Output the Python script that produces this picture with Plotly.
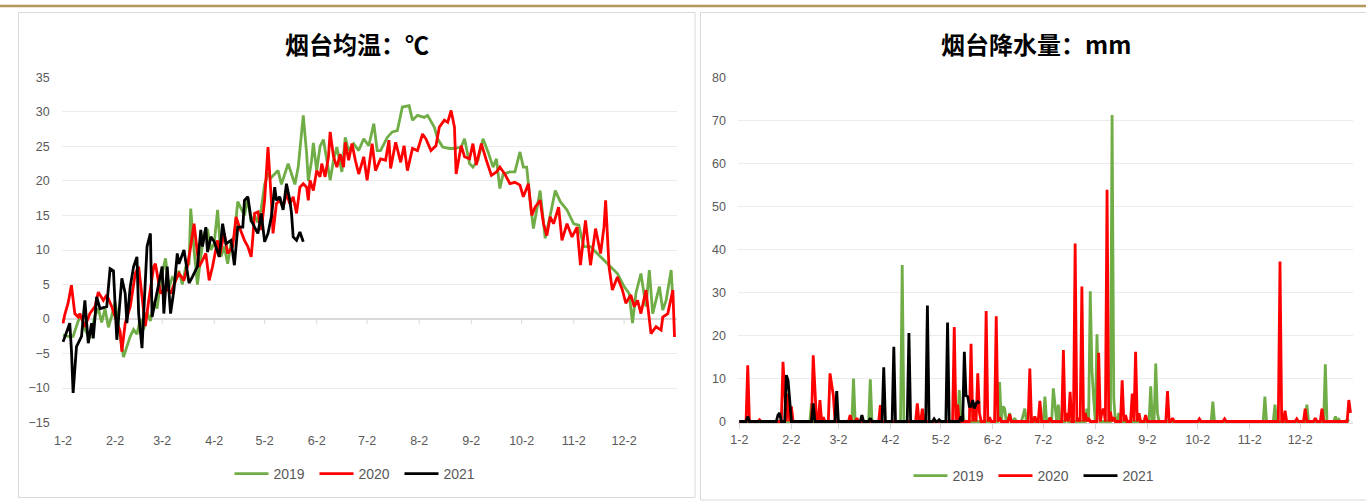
import datetime as dt
import numpy as np
import plotly.graph_objects as go

W, H = 1366, 501

# ---------------- axis categories ----------------
month_labels = ["1-2", "2-2", "3-2", "4-2", "5-2", "6-2", "7-2", "8-2", "9-2", "10-2", "11-2", "12-2"]
month_days = [(dt.date(2021, m, 2) - dt.date(2021, 1, 2)).days for m in range(1, 13)]
years = ["2019", "2020", "2021"]
colors = {"2019": "#70AD47", "2020": "#FF0000", "2021": "#000000"}

# ---------------- temperature (day offset from 1-2, deg C) ----------------
temp2019_day = [0, 3, 6, 9, 11, 13, 16, 19, 21, 23, 25, 27, 29, 31, 33, 36, 38, 40, 42, 44, 46, 48, 50, 52, 54, 56,
                58, 61, 63, 65, 67, 69, 71, 73, 75, 76, 78, 80, 82, 84, 86, 88, 90, 92, 94, 96, 98, 100, 102, 104, 106,
                108, 110, 112, 114, 116, 118, 120, 122, 124, 126, 128, 130, 132, 134, 136, 138, 140, 142, 143, 145,
                146, 148, 149, 151, 153, 155, 157, 159, 161, 163, 166, 168, 170, 173, 176, 179, 182, 185, 187, 189,
                193, 196, 199, 202, 206, 208, 211, 215, 217, 221, 223, 226, 230, 233, 237, 239, 242, 244, 247, 250,
                253, 256, 258, 260, 262, 266, 269, 272, 274, 276, 278, 280, 284, 287, 290, 293, 296, 300, 304, 307,
                310, 314, 318, 322, 326, 330, 334, 337, 339, 341, 344, 347, 349, 351, 355, 357, 359, 362, 363]
temp2019_val = [-2.3, -2.5, -2.5, -0.3, 0.5, -1.5, -2.8, 0.5, 1.5, -0.5, 1.5, -1.2, 0.5, 2.5, -1, -5.5, -4, -2.5,
                -1.5, -2.2, 0, -1.5, 1, -0.3, 2.5, 1.5, 5.5, 8.8, 4.5, 6, 5.5, 7, 5, 7.5, 8, 16, 10, 5, 9, 12.5, 13,
                10, 11, 15.8, 9, 10.5, 8, 11, 12, 17, 16, 15, 17.5, 14, 15, 14, 16, 19.5, 21, 20.5, 21, 21.5, 19.5,
                21, 22.5, 21, 19.5, 22, 27, 29.5, 24, 20, 23, 25.5, 21.5, 25, 26, 23, 20.1, 23, 24.9, 21.3, 26.3,
                24.4, 25.4, 24.4, 26.1, 25.1, 28.3, 24.4, 24.4, 26.3, 27.1, 27.3, 30.7, 30.9, 28.8, 29.5, 29.2, 29.5,
                27.8, 26.1, 24.9, 24.7, 24.7, 24.9, 26.1, 22.5, 22, 23, 26.1, 24.2, 22, 23.2, 18.9, 21, 21.3, 21.3,
                24.2, 22, 22, 17.2, 13.1, 18.6, 11.7, 15, 18.6, 17, 15.8, 13.8, 13.6, 10.5, 10.5, 9.5, 8.5, 7.6, 6.6,
                4.7, 3.7, -0.6, 3.7, 6.6, 1.8, 7.1, 0.8, 4.7, 1.3, 2.7, 7.1, 2.7]

temp2020_day = [0, 1, 3, 5, 7, 9, 10, 13, 16, 19, 21, 24, 26, 29, 32, 34, 35, 37, 40, 43, 45, 47, 49, 51, 54, 55, 58,
                61, 64, 67, 69, 72, 74, 76, 78, 80, 81, 83, 85, 87, 89, 92, 93, 96, 98, 101, 103, 105, 108, 110, 112,
                113, 114, 116, 118, 120, 122, 124, 125, 127, 129, 131, 133, 135, 137, 139, 141, 143, 145, 146, 147,
                149, 151, 153, 154, 156, 158, 159, 161, 163, 165, 167, 168, 170, 172, 174, 176, 179, 181, 184, 186,
                189, 192, 194, 195, 198, 201, 203, 205, 208, 211, 214, 216, 219, 222, 224, 227, 229, 231, 233, 234,
                237, 239, 242, 244, 246, 249, 252, 255, 258, 260, 263, 266, 269, 272, 274, 277, 279, 281, 284, 286,
                288, 290, 292, 295, 297, 300, 303, 306, 308, 311, 314, 317, 320, 322, 323, 325, 327, 330, 333, 335,
                338, 340, 342, 344, 347, 350, 353, 356, 357, 360, 363, 364]
temp2020_val = [-0.6, 0.6, 2.3, 4.9, 0.8, 0.3, 0.8, -1.1, 0.8, 1.8, 3.9, 2.7, 3.5, 1.8, -0.4, -1.8, -4.7, -0.6, 1.8,
                6.6, 7.6, 3.7, -1, 2.7, 7.6, 8, 3.7, 4.7, 3.7, 5.6, 6.6, 5.6, 7.6, 10.5, 13.8, 9.5, 7.6, 8.5, 9.5,
                5.6, 7.6, 11.4, 9, 12.4, 9.5, 10.5, 14.8, 13.3, 11.4, 10.5, 9, 11.9, 15.3, 15.5, 12.9, 17.2, 24.9,
                17.2, 12.4, 16.7, 17.2, 16.2, 18.2, 16.7, 17.7, 15.3, 19.1, 19.6, 19.1, 17.2, 20.1, 18.6, 21.5, 20.6,
                22.5, 20.6, 23.5, 27.1, 23.5, 22, 23.9, 22, 25.6, 23, 25.4, 23, 21, 23.5, 20.1, 25.4, 21.5, 23.2, 23,
                25.9, 21.8, 25.6, 22.7, 25.1, 21.5, 24.7, 24.4, 26.8, 26.1, 24.4, 25.1, 27.8, 28.8, 28.5, 30.2, 27.8,
                21, 25.1, 23.5, 23.2, 25.4, 22.3, 25.4, 23, 20.8, 21.3, 22, 21, 19.6, 19.8, 19.4, 17.7, 19.6, 15,
                16.2, 17.2, 13.8, 12.1, 14.8, 13.8, 16.2, 11.4, 13.8, 11.9, 13.3, 7.8, 14.3, 7.8, 13.1, 9.5, 13.3,
                17.2, 7.6, 4.2, 6.1, 4.2, 2.3, 3.5, 1.8, 2.7, 0.8, 4.2, -2.1, -1.1, -1.6, 0.3, 0.8, 4.2, -2.6]

temp2021_day = [0, 4, 5, 6, 8, 11, 13, 15, 17, 18, 20, 22, 26, 28, 30, 31, 32, 35, 37, 38, 40, 42, 44, 45, 47, 50,
                52, 53, 56, 59, 60, 62, 64, 66, 68, 69, 72, 75, 77, 80, 82, 83, 85, 86, 88, 90, 93, 95, 97, 100, 102,
                104, 107, 108, 110, 112, 114, 116, 118, 120, 122, 124, 126, 127, 129, 131, 133, 135, 136, 137, 139,
                141, 143]
temp2021_val = [-3.3, -0.6, -4.5, -10.7, -4, -2.5, 2.7, -3.5, -0.6, -2.8, 3.2, 1.5, 1.8, 7.3, 7, 1.8, -3, 5.9, 3.7,
                -0.6, 4.7, 7.6, 9, 0.8, -4.2, 10.5, 12.4, 0.3, 3.7, 7.6, 0.8, 7.6, 0.8, 4.2, 9.5, 8, 10, 5.2, 6.1,
                7.6, 12.9, 10.5, 13.3, 9.7, 11.9, 11.2, 9, 13.8, 10.9, 11.4, 7.8, 13.3, 13.3, 17.2, 17.7, 14.3, 13.3,
                12.4, 15.3, 11.2, 12.4, 14.8, 19.1, 17.2, 17.7, 15.8, 19.6, 17.2, 15.3, 11.9, 11.4, 12.6, 11.2]

# ---------------- precipitation events (day offset from 1-2, mm); other days are 0 ----------------
rain2019_day = [43, 48, 68, 78, 97, 131, 133, 155, 157, 158, 161, 164, 169, 170, 175, 182, 187, 188, 190, 195, 207,
                209, 210, 211, 213, 214, 222, 223, 226, 245, 248, 249, 282, 313, 319, 338, 349, 355, 357, 362]
rain2019_mm = [4.2, 3, 10, 9.8, 36.4, 7.3, 2, 9.2, 3.5, 3, 2, 0.8, 1.5, 3, 1, 5.8, 7.7, 3, 3.9, 1.5, 3, 30.3, 12,
               5.4, 20.3, 4.6, 71.3, 5.4, 2, 8.2, 13.5, 2, 4.6, 5.8, 3.9, 3.9, 13.3, 1.2, 0.5, 0.5]

rain2020_day = [5, 12, 26, 27, 29, 31, 44, 45, 48, 50, 54, 55, 56, 66, 70, 84, 106, 109, 128, 130, 138, 140, 142, 143,
                147, 149, 153, 155, 161, 173, 176, 179, 185, 193, 195, 197, 200, 202, 204, 206, 208, 214, 216, 217,
                219, 221, 223, 228, 230, 234, 236, 238, 242, 255, 258, 274, 289, 322, 325, 332, 337, 343, 347, 363,
                364]
rain2020_mm = [13.1, 0.4, 13.9, 6, 6.5, 3.5, 15.4, 8, 5, 1, 11.2, 9, 6, 1.5, 0.8, 3.8, 4.2, 3, 22, 3.9, 18.1, 3,
               11.2, 2, 25.7, 1, 24.5, 1, 1.7, 12.3, 1.2, 4.8, 0.9, 16.6, 2, 6.9, 41.4, 0.8, 31.4, 2, 0.8, 16, 2.3,
               3, 53.9, 2.3, 1, 9.6, 1.5, 6.5, 16.2, 1.9, 1.5, 7.1, 0.8, 0.6, 0.6, 37.2, 2.5, 0.6, 3, 0.8, 3, 5, 2]

rain2021_day = [5, 23, 24, 28, 29, 30, 44, 58, 73, 78, 86, 92, 101, 112, 116, 119, 124, 132, 134, 135, 136, 137, 138,
                139, 140, 141, 142, 143]
rain2021_mm = [1.2, 1.5, 2, 10.8, 9.6, 5, 4.2, 7.1, 1.5, 0.8, 12.6, 17.4, 20.6, 27, 0.6, 0.4, 23, 1.2, 16.2, 6, 5.8,
               3.5, 3.5, 5, 3, 4.2, 4.6, 4.2]
rain_last_day = {"2019": 363, "2020": 364, "2021": 143}

temps = {"2019": (temp2019_day, temp2019_val), "2020": (temp2020_day, temp2020_val),
         "2021": (temp2021_day, temp2021_val)}
rains = {"2019": (rain2019_day, rain2019_mm), "2020": (rain2020_day, rain2020_mm),
         "2021": (rain2021_day, rain2021_mm)}


def daily(days, vals, last):
    s = np.zeros(last + 1)
    s[np.array(days)] = vals
    return np.arange(last + 1), s


def px_x(p):
    return p / W


def px_y(p):
    return 1 - p / H


fig = go.Figure()
for y in years:
    d, v = temps[y]
    fig.add_trace(go.Scatter(x=d, y=v, mode="lines", name=y, legend="legend",
                             line=dict(color=colors[y], width=2.8), xaxis="x", yaxis="y"))
for y in years:
    d, v = daily(*rains[y], rain_last_day[y])
    fig.add_trace(go.Scatter(x=d, y=v, mode="lines", name=y, legend="legend2",
                             line=dict(color=colors[y], width=2.8), xaxis="x2", yaxis="y2"))

tick_font = dict(family="Liberation Sans, Arial, sans-serif", size=12.5, color="#595959")
legend_font = dict(family="Liberation Sans, Arial, sans-serif", size=14, color="#595959")
grid = "#ebebeb"
xr = [-0.8, 365.3]
ydom = [px_y(423), px_y(77)]

fig.update_layout(
    width=W, height=H, autosize=False, margin=dict(l=0, r=0, t=0, b=0, pad=0, autoexpand=False),
    paper_bgcolor="white", plot_bgcolor="white",
    showlegend=True,
    xaxis=dict(domain=[px_x(61.7), px_x(676.7)], range=xr, tickvals=month_days, ticktext=month_labels,
               showgrid=False, zeroline=False, showline=False, ticks="outside", ticklen=6, automargin=False,
               tickcolor="rgba(0,0,0,0)", tickfont=tick_font, anchor="y"),
    yaxis=dict(domain=ydom, range=[-15.05, 35.05], dtick=5, tick0=0, showgrid=True, gridcolor=grid,
               zeroline=True, zerolinecolor="#d9d9d9", zerolinewidth=1.5, showline=False, automargin=False,
               tickfont=tick_font, ticklabelstandoff=11, anchor="x"),
    xaxis2=dict(domain=[px_x(738), px_x(1352.7)], range=xr, tickvals=month_days, ticktext=month_labels,
                showgrid=False, zeroline=False, showline=True, linecolor="#d9d9d9", linewidth=1, automargin=False,
                ticks="outside", ticklen=5, tickcolor="#d9d9d9", tickfont=tick_font, anchor="y2"),
    yaxis2=dict(domain=ydom, range=[-0.35, 80.15], dtick=10, tick0=0, showgrid=True, gridcolor=grid,
                zeroline=False, showline=False, tickfont=tick_font, ticklabelstandoff=11, automargin=False,
                anchor="x2"),
    legend=dict(orientation="h", x=px_x(357), y=px_y(474), xanchor="center", yanchor="middle",
                font=legend_font, bgcolor="rgba(0,0,0,0)", entrywidth=36, itemwidth=34),
    legend2=dict(orientation="h", x=px_x(1036), y=px_y(476), xanchor="center", yanchor="middle",
                 font=legend_font, bgcolor="rgba(0,0,0,0)", entrywidth=36, itemwidth=34),
)

title_font = dict(family="Noto Sans CJK SC, sans-serif", size=24, color="#000000")
fig.add_annotation(text="<b>烟台均温：℃</b>", x=px_x(357), y=px_y(43), xref="paper", yref="paper",
                   showarrow=False, font=title_font, xanchor="center", yanchor="middle")
fig.add_annotation(text="<b>烟台降水量：mm</b>", x=px_x(1036), y=px_y(43), xref="paper", yref="paper",
                   showarrow=False, font=title_font, xanchor="center", yanchor="middle")

shapes = [
    dict(type="line", xref="paper", yref="paper", x0=0, x1=1, y0=px_y(6), y1=px_y(6),
         line=dict(color="#B4975A", width=2.5)),
    dict(type="rect", xref="paper", yref="paper", x0=px_x(18.5), x1=px_x(695), y0=px_y(497.5), y1=px_y(12.5),
         line=dict(color="#d9d9d9", width=1), layer="below"),
    dict(type="rect", xref="paper", yref="paper", x0=px_x(700.5), x1=px_x(1370), y0=px_y(500), y1=px_y(12.5),
         line=dict(color="#d9d9d9", width=1), layer="below"),
]
# tick marks hanging from the zero line of the temperature chart (Excel axis crosses at 0)
for d in month_days:
    shapes.append(dict(type="line", xref="x", yref="y", x0=d, x1=d, y0=0, y1=-0.75,
                       line=dict(color="#d9d9d9", width=1), layer="below"))
fig.update_layout(shapes=shapes)

fig.write_html("out.html", config={"displayModeBar": False},
               post_script="document.body.style.margin='0px';document.body.style.overflow='hidden';")
